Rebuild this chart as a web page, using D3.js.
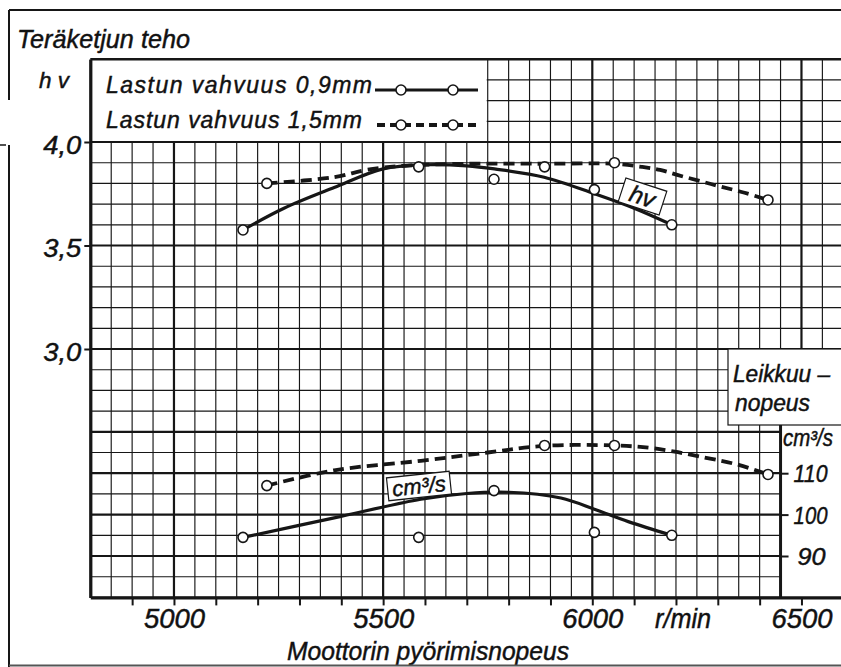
<!DOCTYPE html>
<html><head><meta charset="utf-8">
<script src="https://cdn.jsdelivr.net/npm/d3@7"></script>
<style>
body{margin:0;background:#fff}
text{font-family:"Liberation Sans",Arial,sans-serif;font-style:italic;fill:#111;stroke:#111;stroke-width:0.45px}
</style>
</head><body><svg id="chart" width="841" height="667"></svg>
<script>
// ---- data ----
const rpmTicks = [5000, 5500, 6000, 6500];
const rpmMinorTicks = [4900,5000,5100,5200,5300,5400,5500,5600,5700,5800,5900,6000,6100,6200,6300,6400,6500];
const hvTicks = [4.0, 3.5, 3.0];
const hvTickLabels = ["4,0", "3,5", "3,0"];
const cmTicks = [110, 100, 90];
const cmTickLabels = ["110", "100", "90"];

// measured points, chip thickness 0.9 mm (solid)
const rpm09 = [5165, 5585, 5765, 6005, 6190];
const hv09  = [3.575, 3.88, 3.82, 3.77, 3.60];
const cm09  = [94.5, 94.5, 105.8, 95.7, 95.0];
// measured points, chip thickness 1.5 mm (dashed)
const rpm15 = [5222, 5886, 6053, 6420];
const hv15  = [3.80, 3.88, 3.90, 3.72];
const cm15  = [107.0, 116.7, 116.7, 109.7];

// hand-drawn fitted curves
const hv09FitRpm = [5165, 5263, 5383, 5500, 5600, 5700, 5766, 5885, 6005, 6100, 6190];
const hv09Fit    = [3.575, 3.68, 3.78, 3.87, 3.89, 3.885, 3.87, 3.83, 3.75, 3.68, 3.60];
const hv15FitRpm = [5222, 5383, 5460, 5550, 5700, 5885, 6053, 6118, 6162, 6205, 6260, 6308, 6364, 6420];
const hv15Fit    = [3.80, 3.83, 3.865, 3.885, 3.895, 3.895, 3.895, 3.88, 3.865, 3.84, 3.81, 3.784, 3.755, 3.72];
const cm09FitRpm = [5165, 5383, 5590, 5700, 5800, 5925, 6005, 6086, 6190];
const cm09Fit    = [94.5, 99.2, 103.7, 105.1, 105.4, 104.0, 101.3, 98.3, 95.0];
const cm15FitRpm = [5222, 5383, 5590, 5750, 5886, 6053, 6148, 6268, 6350, 6420];
const cm15Fit    = [107.0, 110.7, 113.0, 115.0, 116.6, 116.7, 116.0, 113.8, 112.0, 109.7];

// ---- drawing ----
const svg = d3.select("#chart");
svg.append("rect").attr("width", 841).attr("height", 667).attr("fill", "#fff");

const x = d3.scaleLinear().domain([4800, 6600]).range([90.3, 843.3]);
const y = d3.scaleLinear().domain([1.8, 4.4]).range([597.4, 59.2]);
const yCm = d3.scaleLinear().domain([80, 120]).range([y(1.8), y(2.6)]);

const ink = "#161616";

// grid
const grid = svg.append("g");
const gridRpm = d3.range(4800, 6601, 50);
const gridHv = d3.range(18, 45).map(v => v / 10);
const boldY = [...hvTicks.map(y), ...[120, ...cmTicks].map(yCm)];
grid.selectAll("line.v").data(gridRpm).join("line")
  .attr("x1", d => x(d)).attr("x2", d => x(d))
  .attr("y1", y(4.4)).attr("y2", y(1.8))
  .attr("stroke", ink).attr("stroke-width", d => d % 500 === 0 ? 2.2 : 1.15);
grid.selectAll("line.h").data(gridHv).join("line")
  .attr("x1", x(4800)).attr("x2", 843)
  .attr("y1", d => y(d)).attr("y2", d => y(d))
  .attr("stroke", ink)
  .attr("stroke-width", d => boldY.some(b => Math.abs(b - y(d)) < 1) ? 2.2 : 1.15);

// white areas (legend, right label box)
svg.append("rect").attr("x", x(4800)).attr("y", y(4.4) - 2)
  .attr("width", x(5750) - x(4800) - 1).attr("height", y(4.0) - y(4.4) + 1)
  .attr("fill", "#fff");
svg.append("rect").attr("x", x(6450)).attr("y", 425).attr("width", 70).attr("height", y(1.8) - 425)
  .attr("fill", "#fff");
svg.append("rect").attr("x", 728).attr("y", y(3.0)).attr("width", 130).attr("height", 425 - y(3.0))
  .attr("fill", "#fff").attr("stroke", ink).attr("stroke-width", 1.2);

// frame lines of the plot
svg.append("line").attr("x1", x(4800)).attr("x2", 843).attr("y1", y(4.4)).attr("y2", y(4.4))
  .attr("stroke", ink).attr("stroke-width", 2.6);
svg.append("line").attr("x1", x(6450)).attr("x2", x(6450)).attr("y1", 425).attr("y2", y(1.8))
  .attr("stroke", ink).attr("stroke-width", 3);

// bottom axis: minor ticks
const axB = svg.append("g").attr("transform", `translate(0,${y(1.8)})`)
  .call(d3.axisBottom(x).tickValues(rpmMinorTicks).tickSize(8).tickSizeOuter(0).tickFormat(""));
axB.select(".domain").attr("stroke", ink).attr("stroke-width", 3.2);
axB.selectAll(".tick line").attr("stroke", ink).attr("stroke-width", 2);
// bottom axis labels
const axBL = svg.append("g").attr("transform", `translate(0,${y(1.8)})`)
  .call(d3.axisBottom(x).tickValues(rpmTicks).tickSize(0).tickPadding(0).tickFormat(d3.format("d")));
axBL.select(".domain").remove();
axBL.selectAll(".tick text").attr("dy", 0).attr("y", 31)
  .attr("font-size", 28).attr("font-family", null)
  .attr("fill", ink).attr("textLength", 61).attr("lengthAdjust", "spacingAndGlyphs");

// left axis
const axL = svg.append("g").attr("transform", `translate(${x(4800)},0)`)
  .call(d3.axisLeft(y).tickValues(hvTicks).tickSize(6).tickSizeOuter(0).tickPadding(3)
        .tickFormat((d, i) => hvTickLabels[i]));
axL.select(".domain").attr("stroke", ink).attr("stroke-width", 3.2);
axL.selectAll(".tick line").attr("stroke", ink).attr("stroke-width", 2);
axL.selectAll(".tick text").attr("dy", "0.44em").attr("font-size", 25).attr("font-family", null)
  .attr("fill", ink).attr("textLength", 38).attr("lengthAdjust", "spacingAndGlyphs");

// right axis (cm3/s)
const axR = svg.append("g").attr("transform", `translate(${x(6450)},0)`)
  .call(d3.axisRight(yCm).tickValues(cmTicks).tickSize(8).tickPadding(6)
        .tickFormat((d, i) => cmTickLabels[i]));
axR.select(".domain").remove();
axR.selectAll(".tick line").attr("stroke", ink).attr("stroke-width", 2);
axR.selectAll(".tick text").attr("dy", "0.35em").attr("font-size", 24).attr("font-family", null)
  .attr("fill", ink)
  .attr("x", d => d === 90 ? 17 : 13)
  .attr("textLength", d => d === 90 ? 28 : 34).attr("lengthAdjust", "spacingAndGlyphs");

// curves
const hvLine = d3.line().x(d => x(d[0])).y(d => y(d[1])).curve(d3.curveCatmullRom.alpha(0.5));
const cmLine = d3.line().x(d => x(d[0])).y(d => yCm(d[1])).curve(d3.curveCatmullRom.alpha(0.5));
const solid = {stroke: ink, width: 3.2, dash: null};
const dashed = {stroke: ink, width: 3.8, dash: "11,6"};
function drawCurve(gen, xs, ys, st) {
  svg.append("path").datum(xs.map((v, i) => [v, ys[i]]))
    .attr("d", gen).attr("fill", "none").attr("stroke", st.stroke)
    .attr("stroke-width", st.width).attr("stroke-dasharray", st.dash)
    .attr("stroke-linecap", "butt");
}
drawCurve(hvLine, hv15FitRpm, hv15Fit, dashed);
drawCurve(hvLine, hv09FitRpm, hv09Fit, solid);
drawCurve(cmLine, cm15FitRpm, cm15Fit, dashed);
drawCurve(cmLine, cm09FitRpm, cm09Fit, solid);

function drawPoints(xs, ys, sc) {
  svg.append("g").selectAll("circle").data(xs.map((v, i) => [v, ys[i]])).join("circle")
    .attr("cx", d => x(d[0])).attr("cy", d => sc(d[1])).attr("r", 5)
    .attr("fill", "#fff").attr("stroke", ink).attr("stroke-width", 1.6);
}
drawPoints(rpm09, hv09, y);
drawPoints(rpm15, hv15, y);
drawPoints(rpm09, cm09, yCm);
drawPoints(rpm15, cm15, yCm);

// curve labels in boxes
function boxLabel(cx, cy, w, h, ang, txt, fs) {
  const g = svg.append("g").attr("transform", `translate(${cx},${cy}) rotate(${ang})`);
  g.append("rect").attr("x", -w / 2).attr("y", -h / 2).attr("width", w).attr("height", h)
    .attr("fill", "#fff").attr("stroke", ink).attr("stroke-width", 1.2);
  g.append("text").attr("text-anchor", "middle").attr("y", fs * 0.35).attr("font-size", fs).text(txt);
}
boxLabel(642.5, 196.5, 43, 25, 18, "hv", 24);
boxLabel(419, 486, 63, 23, -6, "cm³/s", 22);

// legend
const legend = [
  {label: "Lastun vahvuus 0,9mm", ty: 93, ly: 90, st: solid, len: 266, x1: 375, x2: 478},
  {label: "Lastun vahvuus 1,5mm", ty: 128, ly: 125, st: dashed, len: 256, x1: 377, x2: 476}
];
legend.forEach(l => {
  svg.append("text").attr("x", 106).attr("y", l.ty).attr("font-size", 23)
    .attr("textLength", l.len).attr("lengthAdjust", "spacing").text(l.label);
  svg.append("line").attr("x1", l.x1).attr("x2", l.x2).attr("y1", l.ly).attr("y2", l.ly)
    .attr("stroke", ink).attr("stroke-width", l.st.width)
    .attr("stroke-dasharray", l.st.dash ? "8,5" : null);
  [401, 453].forEach(cx => svg.append("circle").attr("cx", cx).attr("cy", l.ly).attr("r", 5)
    .attr("fill", "#fff").attr("stroke", ink).attr("stroke-width", 1.6));
});

// titles and units
const T = (t, xx, yy, fs, len, anchor) => {
  const e = svg.append("text").attr("x", xx).attr("y", yy).attr("font-size", fs).text(t);
  if (len) e.attr("textLength", len).attr("lengthAdjust", "spacingAndGlyphs");
  if (anchor) e.attr("text-anchor", anchor);
  return e;
};
T("Teräketjun teho", 17, 48, 25, 173);
T("h v", 39, 88, 22, 30);
T("Moottorin pyörimisnopeus", 287, 660, 25, 282);
T("r/min", 655, 628, 27, 56);
T("Leikkuu –", 733, 382, 23, 97);
T("nopeus", 735, 411, 23, 75);
T("cm³/s", 783, 446, 23, 50);

// outer page frame
svg.append("line").attr("x1", 9).attr("x2", 841).attr("y1", 10).attr("y2", 10)
  .attr("stroke", ink).attr("stroke-width", 2);
svg.append("line").attr("x1", 9).attr("x2", 9).attr("y1", 10).attr("y2", 100)
  .attr("stroke", ink).attr("stroke-width", 2);
svg.append("line").attr("x1", 9).attr("x2", 9).attr("y1", 145).attr("y2", 667)
  .attr("stroke", ink).attr("stroke-width", 2);
svg.append("line").attr("x1", 0).attr("x2", 6).attr("y1", 145).attr("y2", 145)
  .attr("stroke", ink).attr("stroke-width", 1.5);
svg.append("line").attr("x1", 9).attr("x2", 841).attr("y1", 665.5).attr("y2", 665.5)
  .attr("stroke", "#555").attr("stroke-width", 2);
</script>
</body></html>
